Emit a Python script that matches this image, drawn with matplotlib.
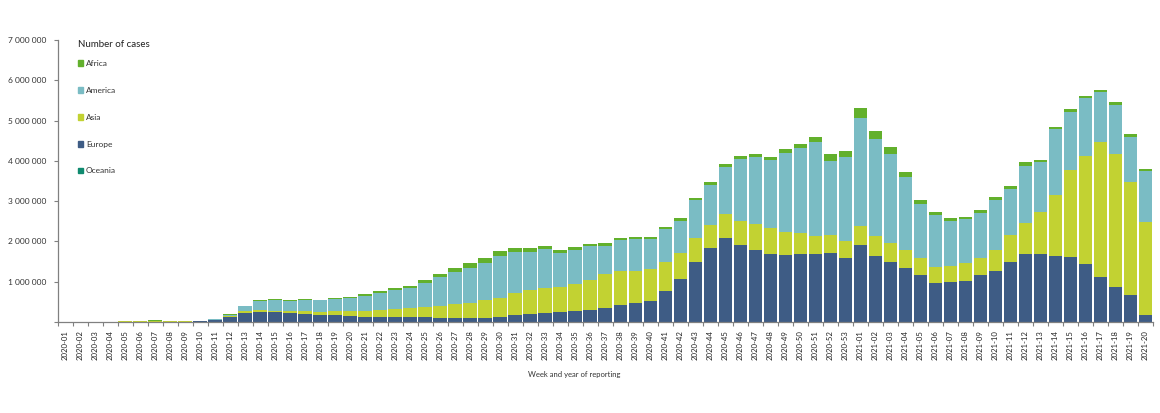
import numpy as np
import matplotlib
matplotlib.use('Agg')
import matplotlib.pyplot as plt
from matplotlib.patches import Patch
from matplotlib.ticker import FuncFormatter

plt.rcParams['font.family'] = ['Lato', 'DejaVu Sans']

weeks = [f'2020-{w:02d}' for w in range(1, 54)] + [f'2021-{w:02d}' for w in range(1, 21)]

# cases per week in thousands
europe = [1, 1, 1, 2, 3, 4, 6, 6, 8, 15, 45, 120, 230, 255, 240, 225, 205, 175, 180, 160,
          130, 120, 120, 120, 120, 110, 110, 110, 110, 120, 170, 200, 230, 240, 270, 300, 350, 410, 460, 520,
          770, 1060, 1500, 1840, 2090, 1910, 1790, 1690, 1660, 1700, 1680, 1720, 1600,
          1910, 1650, 1500, 1330, 1170, 960, 990, 1020, 1160, 1270, 1500, 1690, 1690, 1640, 1620, 1450, 1120, 880, 670, 170]
asia = [1, 2, 3, 6, 12, 18, 25, 12, 8, 8, 10, 30, 50, 50, 40, 45, 60, 65, 90, 110,
        140, 170, 210, 235, 250, 290, 345, 360, 430, 480, 540, 585, 605, 635, 680, 750, 830, 850, 810, 790,
        730, 660, 590, 565, 600, 590, 640, 640, 570, 510, 450, 440, 410,
        480, 490, 460, 460, 430, 400, 410, 440, 440, 520, 660, 760, 1050, 1510, 2160, 2670, 3340, 3280, 2810, 2310]
america = [0, 0, 0, 3, 3, 8, 6, 4, 4, 3, 15, 35, 110, 225, 275, 260, 280, 300, 300, 320,
           380, 440, 470, 495, 600, 710, 785, 870, 920, 1045, 1025, 960, 975, 845, 840, 830, 710, 770, 790, 750,
           800, 790, 930, 1000, 1160, 1550, 1670, 1680, 1970, 2100, 2330, 1840, 2080,
           2680, 2410, 2210, 1810, 1340, 1300, 1100, 1090, 1110, 1250, 1150, 1430, 1220, 1640, 1430, 1430, 1240, 1220, 1120, 1260]
africa = [0, 0, 0, 1, 2, 2, 2, 1, 1, 1, 10, 15, 10, 20, 15, 20, 25, 15, 30, 30,
          50, 40, 50, 50, 70, 70, 90, 115, 130, 115, 105, 95, 65, 70, 70, 50, 60, 60, 50, 55,
          55, 60, 70, 75, 80, 80, 80, 90, 90, 120, 130, 170, 150,
          230, 190, 180, 120, 100, 80, 70, 50, 80, 60, 70, 80, 70, 60, 70, 70, 60, 70, 60, 70]

names = ['Africa', 'America', 'Asia', 'Europe', 'Oceania']
colors = ['#62b02c', '#7abcc4', '#c2d232', '#3e5c85', '#0f8a6f']

x = np.arange(len(weeks))

fig = plt.figure(figsize=(11.6, 4.13), dpi=100)
ax = fig.add_axes([57.5 / 1160, (413 - 322) / 413, (1153 - 57.5) / 1160, 282 / 413])

bottom = np.zeros(len(weeks))
for vals, c in [(europe, colors[3]), (asia, colors[2]), (america, colors[1]), (africa, colors[0])]:
    vals = np.array(vals, dtype=float) * 1000
    ax.bar(x, vals, 0.9, bottom=bottom, color=c, linewidth=0)
    bottom += vals

ax.set_xlim(-0.5, len(weeks) - 0.5)
ax.set_ylim(0, 7000000)
ax.set_yticks(np.arange(0, 7000001, 1000000))
ax.yaxis.set_major_formatter(FuncFormatter(
    lambda v, _: '' if v == 0 else f'{int(v):,}'.replace(',', ' ')))
ax.set_xticks(x)
ax.set_xticklabels(weeks, rotation=90, fontsize=5.6, color='#222222')
ax.set_xticks(np.arange(-0.5, len(weeks)), minor=True)
ax.tick_params(axis='x', which='major', length=0, pad=6)
ax.tick_params(axis='x', which='minor', length=3, width=0.8, color='#808080')
ax.tick_params(axis='y', length=3, width=0.8, color='#808080', labelsize=6, labelcolor='#333333', pad=4.7)
for s in ['top', 'right']:
    ax.spines[s].set_visible(False)
for s in ['left', 'bottom']:
    ax.spines[s].set_color('#808080')
    ax.spines[s].set_linewidth(0.9)

handles = [Patch(color=c, label=n) for n, c in zip(names, colors)]
leg = ax.legend(handles=handles, title='Number of cases', loc='upper left',
                bbox_to_anchor=(20 / 1095.5, 1.0), frameon=False, fontsize=6,
                title_fontsize=7, alignment='left', labelspacing=2.39,
                handlelength=0.7, handleheight=0.7, handletextpad=0.3, borderpad=0, borderaxespad=0)
leg.get_title().set_color('#222222')
for t in leg.get_texts():
    t.set_color('#333333')
leg._legend_box.sep = 7.8

fig.text(574 / 1160, 1 - 375 / 413, 'Week and year of reporting', ha='center', va='center',
         fontsize=5.5, color='#333333')

fig.savefig('out.png', dpi=100)
